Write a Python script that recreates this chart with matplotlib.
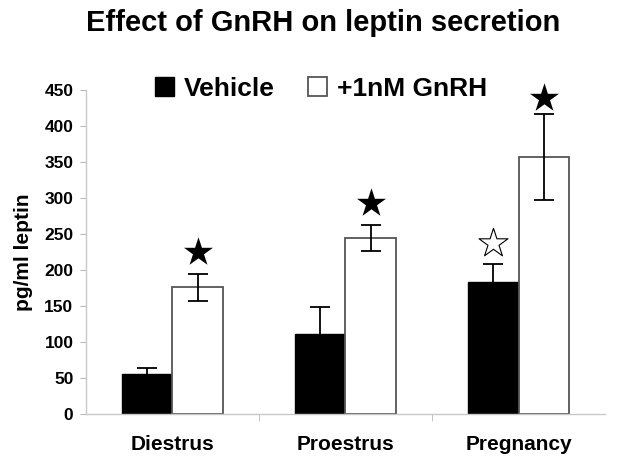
import matplotlib
matplotlib.use("Agg")
import matplotlib.pyplot as plt
import numpy as np

plt.rcParams['font.family'] = ['Liberation Sans', 'DejaVu Sans']
plt.rcParams['font.weight'] = 'bold'

categories = ["Diestrus", "Proestrus", "Pregnancy"]
vehicle = [56, 111, 184]
vehicle_err = [8, 38, 24]
gnrh = [176, 245, 357]
gnrh_err = [19, 18, 60]
filled_star_y = [225, 293, 439]
open_star_y = [None, None, 237]
yticks = [0, 50, 100, 150, 200, 250, 300, 350, 400, 450]

fig = plt.figure(figsize=(6.18, 4.75), dpi=100)
ax = fig.add_axes([0.139, 0.128, 0.840, 0.683])

x = np.arange(len(categories))
w = 0.29
ax.bar(x - w/2, vehicle, w, color='black', edgecolor='black', linewidth=1,
       yerr=vehicle_err, error_kw=dict(ecolor='black', capsize=7, elinewidth=1.3, capthick=1.3),
       label='Vehicle', zorder=2)
ax.bar(x + w/2, gnrh, w, color='white', edgecolor='#555555', linewidth=1.3,
       yerr=gnrh_err, error_kw=dict(ecolor='black', capsize=7, elinewidth=1.3, capthick=1.3),
       label='+1nM GnRH', zorder=2)

ax.scatter(x + w/2, filled_star_y, marker='*', s=480, color='black', zorder=3,
           linewidths=0, clip_on=False)
for i, ys in enumerate(open_star_y):
    if ys is not None:
        ax.scatter([x[i] - w/2], [ys], marker='*', s=480, facecolor='white',
                   edgecolor='black', linewidths=0.8, zorder=3, clip_on=False)

ax.set_xlim(-0.5, len(categories) - 0.5)
ax.set_ylim(0, 450)
ax.set_yticks(yticks)
ax.set_yticklabels([str(t) for t in yticks], fontsize=12.5, fontweight='bold')
ax.set_xticks(x)
ax.set_xticklabels(categories, fontsize=15, fontweight='bold')
ax.tick_params(axis='x', length=0, pad=15)
ax.set_xticks([0.5, 1.5], minor=True)
ax.tick_params(axis='x', which='minor', length=5, color='#bbbbbb')
ax.tick_params(axis='y', length=4, color='#bbbbbb', pad=5)

for s in ['top', 'right']:
    ax.spines[s].set_visible(False)
for s in ['left', 'bottom']:
    ax.spines[s].set_color('#c8c8c8')
    ax.spines[s].set_linewidth(1)

ax.set_ylabel('pg/ml leptin', fontsize=15, fontweight='bold', labelpad=8)

fig.text(0.523, 0.951, 'Effect of GnRH on leptin secretion', ha='center', va='center',
         fontsize=21, fontweight='bold')

leg = ax.legend(loc='upper center', bbox_to_anchor=(0.453, 1.113), ncol=2, frameon=False,
                prop=dict(size=19, weight='bold'), handlelength=0.72, handleheight=0.72,
                handletextpad=0.4, columnspacing=1.25)

fig.savefig('out.png', dpi=100)
